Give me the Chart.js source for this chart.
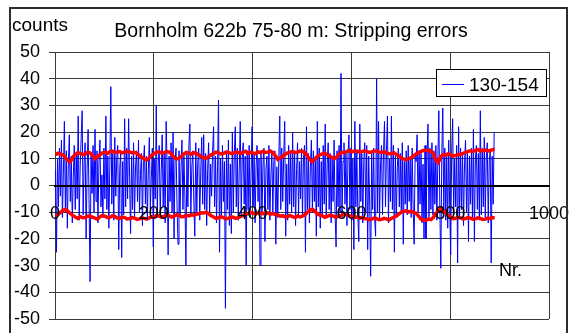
<!DOCTYPE html>
<html>
<head>
<meta charset="utf-8">
<script src="https://cdn.jsdelivr.net/npm/chart.js@4"></script>
<style>
  html, body { margin: 0; padding: 0; background: #fff; }
  #wrap { width: 575px; height: 333px; }
</style>
</head>
<body>
<div id="wrap"><canvas id="c" width="575" height="333"></canvas></div>
<script>
const TITLE = 'Bornholm 622b 75-80 m: Stripping errors';
const Y_LABEL = 'counts';
const X_LABEL = 'Nr.';
const SERIES_NAME = '130-154';
const xTicks = [0, 200, 400, 600, 800, 1000];
const yTicks = [-50, -40, -30, -20, -10, 0, 10, 20, 30, 40, 50];

// stripping errors of series 130-154, read at every 2nd Nr. (1, 3, 5, ... 889)
const counts130_154 = [
  6, -25, 10, -8, 14, -4, 17, -12, 5, 24,
  -10, 13, -16, 8, 19, -6, 11, -14, 3, 15,
  -9, 12, -5, 26, -13, 7, 18, 28, -11, 9,
  16, -20, 6, 21, -7, -36, 12, -3, 15, -10,
  21, -6, 13, -14, 9, 17, -8, 4, -12, 14,
  -5, 26, -9, 11, -16, 8, 37, -7, 12, -13,
  18, -4, 10, 15, -24, 6, 13, -27, 9, -11,
  25, -8, 14, -5, 25, 3, -18, 11, -9, 16,
  -12, 7, 13, -6, 17, -10, 4, 12, -15, 9,
  15, -7, 11, -13, 6, 18, -9, 3, 14, -23,
  10, -5, 30, -12, 8, 15, -11, 5, 19, -8,
  12, -14, 24, 7, -26, 11, -6, 16, -10, 20,
  -20, 9, 14, -7, -22, 13, -12, 6, 17, -9,
  11, -5, -30, 12, -8, 15, 23, -11, 7, 13,
  -6, -19, 16, -10, 9, 14, -13, 5, 18, -7,
  19, -9, 12, -15, 6, 16, -11, 8, -4, 13,
  22, -8, 11, -14, 7, 32, -25, 10, -12, 15,
  -6, 9, -46, 13, -9, 17, -15, 8, -18, 20,
  -10, 12, 22, -8, 14, -13, 6, 24, -11, 10,
  16, -7, 11, -30, 13, -9, 15, -12, 5, 22,
  -8, 12, -14, 7, 15, -6, 10, -30, 13, -11,
  8, 14, -21, 6, 11, -9, 15, -13, 4, 12,
  -10, 9, 13, -22, 7, -12, 10, 26, -9, 14,
  -6, 11, 24, -19, 8, -13, 15, -7, 12, -10,
  20, -8, 13, -15, 6, 16, -11, 9, -5, 14,
  -12, 10, 15, -25, 22, -9, 12, -14, 7, 17,
  -10, 13, -6, 11, -19, 24, -8, 14, -16, 9,
  -11, 15, -7, 23, -12, 8, 16, -9, 12, -14,
  10, -6, 17, -11, -23, 13, -8, 15, -10, 42,
  -12, 9, 16, -7, 12, -15, 11, 19, -9, 14,
  -13, 10, -24, 24, -8, 13, -11, -21, 23, -6,
  12, -14, 9, 16, -10, 15, -24, 11, -7, -34,
  13, -9, 14, -12, -19, 40, -10, 24, -13, 8,
  15, -11, 12, 24, -8, 13, 26, -14, 10, -6,
  26, -9, 15, -25, 11, -12, 7, 14, -8, 12,
  -10, 16, -22, 9, -7, 13, -11, 15, -6, 10,
  -12, 14, -8, -22, 11, 9, 19, -10, 13, -7,
  12, -14, 8, -20, 15, -20, 10, 23, -12, 14,
  -9, 16, -11, 13, -7, 15, -13, 10, 28, -8,
  -31, 12, 29, -10, 14, -13, 11, -16, 17, -9,
  -26, 13, 25, -11, 10, -8, 15, -29, 22, -12,
  14, -9, 12, -15, 8, 17, -10, 13, -21, 11,
  -7, 14, -12, 21, -21, 10, 15, -9, 12, -13,
  28, -11, 14, -8, 18, -12, 10, 16, -14, 9,
  13, -29, 11, -7, 20
];

// upper and lower limit curves, read every 5th Nr.
const upperLimit = [
  11.5, 12.1, 11.8, 11.4, 10.5, 9.4, 8.8, 10.6, 11.6, 12.3,
  12.0, 11.6, 11.7, 12.4, 12.2, 11.3, 10.0, 10.9, 11.5, 12.2,
  12.4, 12.0, 12.6, 12.9, 12.3, 12.6, 12.7, 12.2, 12.5, 12.8,
  12.6, 12.2, 12.4, 12.0, 11.2, 10.5, 10.0, 9.6, 10.4, 11.4,
  12.0, 12.5, 12.6, 12.1, 12.3, 12.7, 12.5, 11.8, 10.5, 9.9,
  10.2, 11.0, 11.8, 12.4, 12.1, 11.7, 12.3, 12.0, 11.5, 10.9,
  10.4, 10.2, 10.8, 11.5, 11.9, 12.5, 12.2, 11.8, 12.0, 12.5,
  12.4, 12.0, 12.1, 12.6, 12.3, 12.0, 12.5, 12.8, 12.0, 12.4,
  12.2, 11.9, 12.6, 12.3, 12.8, 12.4, 12.5, 12.9, 12.3, 11.2,
  9.8, 10.3, 11.0, 11.7, 12.2, 12.5, 12.7, 12.3, 12.5, 12.9,
  12.8, 12.2, 11.0, 9.6, 8.9, 9.8, 10.8, 11.5, 11.8, 12.2,
  11.5, 11.0, 10.4, 10.1, 10.8, 11.9, 12.5, 12.2, 12.8, 13.1,
  12.6, 12.9, 12.9, 12.5, 12.7, 13.0, 12.8, 12.4, 12.6, 12.9,
  12.9, 12.5, 12.4, 12.7, 12.2, 11.9, 12.0, 12.3, 11.6, 11.0,
  10.3, 9.9, 9.7, 10.1, 10.4, 11.1, 11.8, 12.3, 12.8, 13.1,
  13.3, 12.9, 13.0, 11.8, 9.5, 8.6, 10.8, 11.6, 11.4, 11.9,
  11.5, 11.1, 11.2, 11.7, 11.6, 12.0, 12.4, 12.8, 13.0, 12.7,
  13.2, 13.5, 12.9, 13.2, 13.3, 12.9, 13.1, 13.5, 13.4
];
const lowerLimit = [
  -11.5, -10.9, -10.2, -9.3, -9.0, -9.6, -10.5, -11.2, -11.8, -12.3,
  -11.6, -12.1, -12.0, -11.5, -11.4, -11.9, -12.2, -12.6, -11.7, -11.3,
  -11.5, -12.0, -11.9, -11.4, -11.6, -12.2, -12.3, -11.8, -12.0, -12.5,
  -12.4, -12.0, -12.2, -12.7, -12.5, -12.1, -12.3, -12.6, -12.1, -11.7,
  -11.8, -11.2, -11.4, -11.9, -11.6, -11.1, -11.3, -11.8, -11.5, -11.0,
  -11.2, -11.7, -11.6, -11.2, -11.4, -11.0, -11.1, -10.8, -10.6, -10.2,
  -10.3, -10.0, -10.6, -11.3, -11.8, -12.3, -12.1, -11.7, -12.0, -12.4,
  -12.3, -11.8, -11.9, -12.3, -12.0, -11.6, -11.2, -10.8, -10.5, -10.1,
  -10.4, -10.7, -10.2, -10.5, -10.6, -10.1, -10.3, -10.7, -10.5, -10.9,
  -11.0, -11.5, -11.3, -11.8, -11.6, -11.2, -11.7, -12.0, -11.4, -11.8,
  -11.5, -11.0, -10.0, -9.2, -8.9, -9.7, -10.6, -11.1, -11.4, -11.9,
  -11.6, -11.2, -11.3, -11.7, -11.8, -11.4, -11.2, -10.8, -10.9, -11.3,
  -11.5, -11.9, -11.8, -12.2, -12.0, -12.4, -12.5, -12.8, -12.6, -12.2,
  -12.4, -12.8, -12.7, -12.3, -12.5, -12.9, -12.3, -11.9, -11.4, -10.7,
  -10.0, -9.6, -9.5, -9.9, -9.7, -10.1, -10.4, -11.5, -12.6, -12.9,
  -13.0, -12.6, -12.8, -11.9, -10.5, -9.4, -8.6, -9.3, -10.2, -11.2,
  -12.0, -12.4, -12.3, -11.9, -12.1, -12.5, -12.4, -12.0, -12.2, -12.6,
  -12.5, -12.1, -12.3, -12.7, -12.6, -12.2, -12.4, -12.0, -12.2
];

// x positions (Nr.) of the readings
const nr = counts130_154.map((_, i) => 2 * i + 1);
const limitNr = upperLimit.map((_, i) => (i < upperLimit.length - 1 ? 1 + 5 * i : 890));

const FONT = '"Liberation Sans", Arial, Helvetica, sans-serif';
const BLUE = '#0000ff';
const RED = '#ff0000';
const GRID = '#3a3a3a';

function noPad(s) { s.paddingLeft = 0; s.paddingRight = 0; s.paddingTop = 0; s.paddingBottom = 0; }

const decor = {
  id: 'decor',
  beforeDraw(chart) {
    const ctx = chart.ctx;
    ctx.save();
    ctx.fillStyle = '#fff';
    ctx.fillRect(0, 0, chart.width, chart.height);
    ctx.restore();
  },
  afterDraw(chart) {
    const ctx = chart.ctx;
    ctx.save();
    ctx.strokeStyle = '#2e2e2e';
    ctx.lineWidth = 2;
    ctx.strokeRect(10, 8, 557, 360);
    ctx.fillStyle = '#000';
    ctx.textBaseline = 'alphabetic';
    ctx.font = '19.5px ' + FONT;
    ctx.textAlign = 'center';
    ctx.fillText(TITLE, 291, 37);
    ctx.textAlign = 'left';
    ctx.font = '19px ' + FONT;
    ctx.fillText(Y_LABEL, 12, 31);
    ctx.font = '18px ' + FONT;
    ctx.fillText(X_LABEL, 499, 276);
    // legend
    ctx.fillStyle = '#fff';
    ctx.fillRect(436.5, 69.5, 110, 27);
    ctx.strokeStyle = '#000';
    ctx.lineWidth = 1;
    ctx.strokeRect(436.5, 69.5, 110, 27);
    ctx.strokeStyle = BLUE;
    ctx.beginPath();
    ctx.moveTo(442, 84.5);
    ctx.lineTo(464, 84.5);
    ctx.stroke();
    ctx.fillStyle = '#000';
    ctx.font = '19px ' + FONT;
    ctx.fillText(SERIES_NAME, 469, 91);
    ctx.restore();
  }
};

new Chart(document.getElementById('c'), {
  type: 'line',
  data: {
    datasets: [
      { label: 'upper', data: limitNr.map((x, i) => ({ x, y: upperLimit[i] })),
        borderColor: RED, borderWidth: 3.5, pointRadius: 0, tension: 0, fill: false },
      { label: 'lower', data: limitNr.map((x, i) => ({ x, y: lowerLimit[i] })),
        borderColor: RED, borderWidth: 3.5, pointRadius: 0, tension: 0, fill: false },
      { label: SERIES_NAME, data: nr.map((x, i) => ({ x, y: counts130_154[i] })),
        borderColor: BLUE, borderWidth: 1, pointRadius: 0, tension: 0, fill: false }
    ]
  },
  options: {
    responsive: false,
    maintainAspectRatio: false,
    animation: false,
    devicePixelRatio: 1,
    layout: { autoPadding: false, padding: { left: 0, right: 26, top: 52, bottom: 14 } },
    plugins: { legend: { display: false }, tooltip: { enabled: false }, title: { display: false } },
    scales: {
      x: {
        type: 'linear',
        position: { y: 0 },
        min: 0, max: 1000,
        afterFit: s => { s.height = 0; noPad(s); },
        afterBuildTicks: s => { s.ticks = xTicks.map(v => ({ value: v })); },
        grid: { drawOnChartArea: false, drawTicks: true, tickLength: 5, color: '#000' },
        border: { display: true, color: '#000', width: 2, z: 1 },
        ticks: {
          z: 1, autoSkip: false, maxRotation: 0, padding: 13, color: '#000',
          font: { family: FONT, size: 18 },
          callback: v => String(v)
        }
      },
      xg: {
        type: 'linear',
        position: 'bottom',
        min: 0, max: 1000,
        afterFit: s => { s.height = 0; noPad(s); },
        afterBuildTicks: s => { s.ticks = xTicks.map(v => ({ value: v })); },
        grid: { drawOnChartArea: true, drawTicks: false, color: GRID },
        border: { display: false },
        ticks: { display: false }
      },
      y: {
        type: 'linear',
        min: -50, max: 50,
        afterFit: s => { s.width = 55; noPad(s); },
        afterBuildTicks: s => { s.ticks = yTicks.map(v => ({ value: v })); },
        grid: { color: GRID, tickLength: 6 },
        border: { display: true, color: GRID, width: 1 },
        ticks: {
          padding: 9, color: '#000',
          font: { family: FONT, size: 18 },
          callback: v => String(v)
        }
      }
    }
  },
  plugins: [decor]
});
</script>
</body>
</html>
